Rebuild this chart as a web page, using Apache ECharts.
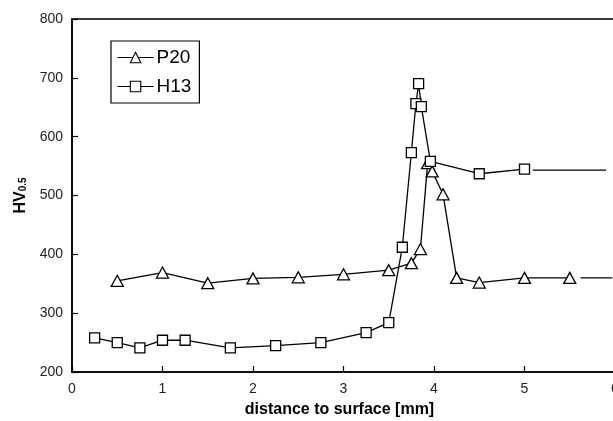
<!DOCTYPE html>
<html><head><meta charset="utf-8">
<script src="https://cdn.jsdelivr.net/npm/echarts@6/dist/echarts.min.js"></script>
<style>html,body{margin:0;padding:0;background:#fff}#c{width:613px;height:421px}</style>
</head><body><div id="c"></div>
<script>
var p20X = [0.5, 1.0, 1.5, 2.0, 2.5, 3.0, 3.5, 3.75, 3.85, 3.93, 3.98, 4.1, 4.25, 4.5, 5.0, 5.5];
var p20Y = [355, 369, 351, 359, 361, 366, 373, 385, 409, 555, 541, 502, 360, 352, 360, 360];
var h13X = [0.25, 0.5, 0.75, 1.0, 1.25, 1.75, 2.25, 2.75, 3.25, 3.5, 3.65, 3.75, 3.8, 3.83, 3.86, 3.96, 4.5, 5.0];
var h13Y = [258, 250, 241, 254, 254, 241, 245, 250, 267, 284, 412, 573, 656, 690, 651, 558, 537, 545];
var p20TailX = [5.62, 5.97];
var p20TailY = [360, 360];
var h13TailX = [5.09, 5.9];
var h13TailY = [543, 543];
var xTicks = [0, 1, 2, 3, 4, 5, 6];
var yTicks = [200, 300, 400, 500, 600, 700, 800];

function zip(a, b) { return a.map(function (v, i) { return [v, b[i]]; }); }
var font = 'Arial, "Liberation Sans", sans-serif';
var chart = echarts.init(document.getElementById('c'));
var lineStyle = { color: '#000', width: 1.3 };
var itemStyle = { color: '#fff', borderColor: '#000', borderWidth: 1.3 };
chart.setOption({
  animation: false,
  backgroundColor: '#fff',
  textStyle: { fontFamily: font },
  grid: { left: 72, top: 19, width: 543, height: 353, outerBoundsMode: 'none', containLabel: false, show: true, borderColor: '#000', borderWidth: 1.5, backgroundColor: 'transparent' },
  legend: {
    data: ['P20', 'H13'], orient: 'vertical', left: 111, top: 41,
    padding: [7, 8, 7, 6], itemGap: 10, itemWidth: 36, itemHeight: 13,
    borderColor: '#000', borderWidth: 1.2,
    itemStyle: { color: '#fff', borderColor: '#000', borderWidth: 1.1 },
    lineStyle: { color: '#000', width: 1.1 },
    textStyle: { fontSize: 19, color: '#000', fontFamily: font, padding: [0, 0, 0, -2] }
  },
  xAxis: {
    type: 'value', min: xTicks[0], max: xTicks[xTicks.length - 1], interval: 1,
    name: 'distance to surface [mm]', nameLocation: 'middle', nameGap: 30,
    nameTextStyle: { fontSize: 16, fontWeight: 'bold', color: '#000', fontFamily: font, padding: [0, 8, 0, 0] },
    axisLine: { lineStyle: { color: '#000', width: 1.5 } },
    axisTick: { inside: true, length: 6, lineStyle: { color: '#000', width: 1.2 } },
    axisLabel: { fontSize: 14, color: '#222', margin: 10, fontFamily: font },
    splitLine: { show: false }
  },
  yAxis: {
    type: 'value', min: yTicks[0], max: yTicks[yTicks.length - 1], interval: 100,
    name: '{m|HV}{s|0.5}', nameLocation: 'middle', nameGap: 42, nameRotate: 90,
    nameTextStyle: {
      rich: {
        m: { fontSize: 16, fontWeight: 'bold', color: '#000', fontFamily: font, verticalAlign: 'bottom', lineHeight: 18 },
        s: { fontSize: 10, fontWeight: 'bold', color: '#000', fontFamily: font, verticalAlign: 'bottom', lineHeight: 16 }
      }
    },
    axisLine: { lineStyle: { color: '#000', width: 1.5 } },
    axisTick: { inside: true, length: 6, lineStyle: { color: '#000', width: 1.2 } },
    axisLabel: { fontSize: 14, color: '#222', margin: 9, fontFamily: font },
    splitLine: { show: false }
  },
  series: [
    { name: 'P20', type: 'line', data: zip(p20X, p20Y), symbol: 'triangle', symbolSize: [12, 11], lineStyle: lineStyle, itemStyle: itemStyle, z: 3 },
    { name: 'H13', type: 'line', data: zip(h13X, h13Y), symbol: 'rect', symbolSize: 10, lineStyle: lineStyle, itemStyle: itemStyle, z: 4 },
    { name: 'p20tail', type: 'line', data: zip(p20TailX, p20TailY), symbol: 'none', lineStyle: lineStyle, silent: true },
    { name: 'h13tail', type: 'line', data: zip(h13TailX, h13TailY), symbol: 'none', lineStyle: lineStyle, silent: true }
  ]
});
</script></body></html>
